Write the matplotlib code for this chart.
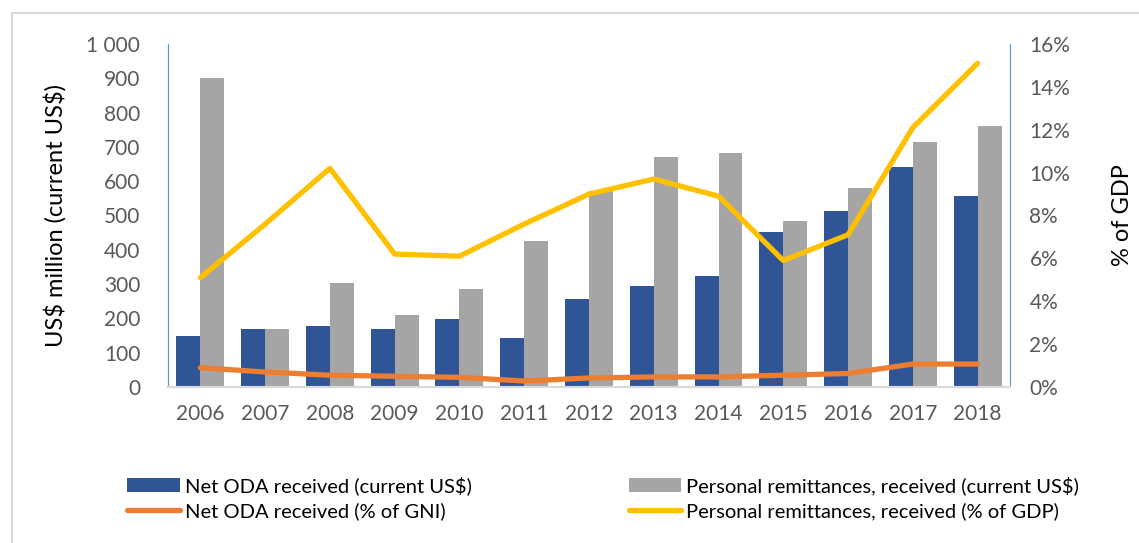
import matplotlib.pyplot as plt
import numpy as np
from matplotlib.lines import Line2D

years = ["2006", "2007", "2008", "2009", "2010", "2011", "2012",
         "2013", "2014", "2015", "2016", "2017", "2018"]
oda_usd = [150, 170, 178, 170, 197, 143, 256, 295, 325, 453, 512, 640, 557]
remit_usd = [900, 170, 302, 210, 285, 425, 570, 670, 682, 484, 580, 713, 760]
oda_pct_gni = [0.9, 0.7, 0.55, 0.5, 0.45, 0.28, 0.42, 0.47, 0.47, 0.55, 0.63, 1.07, 1.07]
remit_pct_gdp = [5.1, 7.6, 10.2, 6.2, 6.1, 7.6, 9.0, 9.7, 8.9, 5.9, 7.1, 12.1, 15.1]

blue = "#2F5597"
grey = "#A5A5A5"
orange = "#ED7D31"
yellow = "#FFC000"
txt = "#595959"
spine_blue = "#5B9BD5"

plt.rcParams["font.family"] = ["Lato", "DejaVu Sans"]

fig = plt.figure(figsize=(11.39, 5.43), dpi=100)
ax = fig.add_axes([0.1475, 0.2873, 0.7392, 0.6317])
ax2 = ax.twinx()

x = np.arange(len(years))
w = 0.37
ax.bar(x - w / 2, oda_usd, w, color=blue, label="Net ODA received (current US\\$)")
ax.bar(x + w / 2, remit_usd, w, color=grey,
       label="Personal remittances, received (current US\\$)")

ax2.plot(x, oda_pct_gni, color=orange, lw=3.8, solid_capstyle="round",
         label="Net ODA received (% of GNI)")
ax2.plot(x, remit_pct_gdp, color=yellow, lw=3.8, solid_capstyle="round",
         label="Personal remittances, received (% of GDP)")

ax.set_xlim(-0.5, len(years) - 0.5)
ax.set_ylim(0, 1000)
ax2.set_ylim(0, 16)

ax.set_xticks(x)
ax.set_xticklabels(years)
ax.set_yticks(range(0, 1001, 100))
ax.set_yticklabels([f"{v:,}".replace(",", " ") for v in range(0, 1001, 100)])
ax2.set_yticks(range(0, 17, 2))
ax2.set_yticklabels([f"{v}%" for v in range(0, 17, 2)])

for a in (ax, ax2):
    a.tick_params(length=0, labelsize=15, colors=txt)
    a.spines["top"].set_visible(False)
    a.spines["left"].set_color(spine_blue)
    a.spines["right"].set_color(spine_blue)
    a.spines["bottom"].set_color("#D9D9D9")
    a.spines["bottom"].set_linewidth(1.5)
ax.tick_params(axis="x", pad=12)
ax.tick_params(axis="y", pad=20)
ax2.tick_params(axis="y", pad=14)

ax.set_ylabel("US\\$ million (current US\\$)", fontsize=17, color="black", labelpad=14)
ax2.set_ylabel("% of GDP", fontsize=17, color="black", labelpad=30)

h1, l1 = ax.get_legend_handles_labels()
h2, l2 = ax2.get_legend_handles_labels()
handles = [h1[0], h2[0], h1[1], h2[1]]
labels = [l1[0], l2[0], l1[1], l2[1]]
fig.legend(handles, labels, ncol=2, loc="upper left", bbox_to_anchor=(0.096, 0.156),
           frameon=False, handlelength=2.6, handletextpad=0.25, columnspacing=7.8,
           labelspacing=0.35, prop={"size": 14.5})

# outer border of the chart box
fig.add_artist(Line2D([12 / 1139, 12 / 1139], [0, 1 - 13 / 543],
                      transform=fig.transFigure, color="#D9D9D9", lw=1.5))
fig.add_artist(Line2D([12 / 1139, 1], [1 - 13 / 543, 1 - 13 / 543],
                      transform=fig.transFigure, color="#D9D9D9", lw=1.5))

fig.savefig("out.png", dpi=100)
